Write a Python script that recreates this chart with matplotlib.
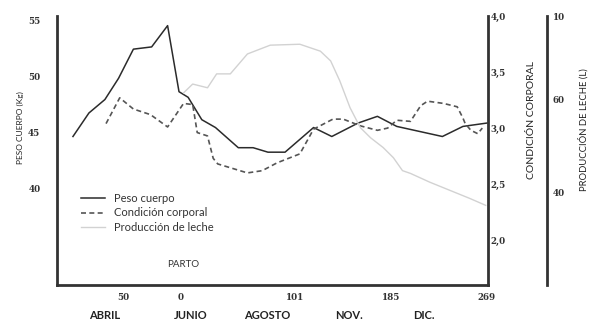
import matplotlib.pyplot as plt

# datos (días respecto al parto)
dias_peso = [-94, -80, -66, -54, -41, -25, -11, -1, 7, 19, 31, 51, 64, 77, 92,
             117, 133, 156, 173, 190, 230, 248, 269]
peso = [44.6, 46.7, 47.9, 49.8, 52.4, 52.6, 54.5, 48.6, 48.1, 46.1, 45.4, 43.6,
        43.6, 43.2, 43.2, 45.4, 44.6, 45.8, 46.4, 45.5, 44.6, 45.5, 45.8]

dias_cc = [-65, -53, -41, -26, -11, 3, 11, 15, 24, 29, 33, 59, 72, 85, 105, 117,
           134, 143, 158, 173, 182, 190, 202, 211, 217, 231, 243, 248, 250, 255,
           261, 265]
condicion = [3.04, 3.27, 3.17, 3.12, 3.01, 3.22, 3.21, 2.96, 2.93, 2.73, 2.68,
             2.60, 2.62, 2.69, 2.77, 2.99, 3.08, 3.08, 3.02, 2.98, 3.00, 3.07,
             3.06, 3.20, 3.24, 3.22, 3.19, 3.09, 3.04, 2.98, 2.95, 3.00]

dias_leche = [3, 11, 24, 32, 44, 59, 79, 105, 123, 132, 140, 149, 158, 167, 178,
              187, 195, 202, 219, 237, 254, 268]
leche = [61.5, 63.4, 62.6, 65.6, 65.6, 69.9, 71.8, 72.0, 70.5, 68.4, 64.1, 58.3,
         54.0, 51.8, 49.7, 47.5, 44.7, 44.1, 42.2, 40.4, 38.7, 37.2]

x_ticks = [-50, 0, 101, 185, 269]
x_labels = ["50", "0", "101", "185", "269"]
meses = ["ABRIL", "JUNIO", "AGOSTO", "NOV.", "DIC."]
meses_x = [-66, 9, 76, 148, 214]

y1_ticks = [40, 45, 50, 55]
y2_ticks = [2.0, 2.5, 3.0, 3.5, 4.0]
y2_labels = ["2,0", "2,5", "3,0", "3,5", "4,0"]
y3_ticks = [40, 60, 78]
y3_labels = ["40", "60", "10"]

fig = plt.figure(figsize=(5.9, 3.21), dpi=100)
ax = fig.add_axes([57 / 590, 36 / 321, 431 / 590, 269 / 321])
ax2 = ax.twinx()
ax3 = ax.twinx()

tick_font = dict(family="DejaVu Serif", weight="bold", size=6.3, color="#333333")
sp_col = "#333333"

l1, = ax.plot(dias_peso, peso, color="#2b2b2b", lw=1.1)
l2, = ax2.plot(dias_cc, condicion, color="#555555", lw=1.2, dashes=(3, 2))
l3, = ax3.plot(dias_leche, leche, color="#d2d2d2", lw=1.0)

ax.set_xlim(-108, 270)
ax.set_ylim(31.34, 55.36)
ax2.set_ylim(1.6, 3.99)
ax3.set_ylim(20, 78.1)

for a in (ax, ax2, ax3):
    a.spines["top"].set_visible(False)
    a.tick_params(length=0)
for a in (ax2, ax3):
    a.spines["left"].set_visible(False)
    a.spines["bottom"].set_visible(False)
ax.spines["right"].set_visible(False)
ax.spines["left"].set_linewidth(2)
ax.spines["bottom"].set_linewidth(2)
ax2.spines["right"].set_linewidth(2)
ax3.spines["right"].set_linewidth(2)
ax3.spines["right"].set_position(("axes", 1.137))
for s in (ax.spines["left"], ax.spines["bottom"], ax2.spines["right"], ax3.spines["right"]):
    s.set_color(sp_col)

ax.set_xticks(x_ticks)
ax.set_xticklabels(x_labels, **tick_font)
ax.tick_params(axis="x", pad=6)
ax.set_yticks(y1_ticks)
ax.set_yticklabels([str(v) for v in y1_ticks], **tick_font)
ax.tick_params(axis="y", pad=12)
ax2.set_yticks(y2_ticks)
ax2.set_yticklabels(y2_labels, **tick_font)
ax2.tick_params(axis="y", pad=2)
ax3.set_yticks(y3_ticks)
ax3.set_yticklabels(y3_labels, **tick_font)
ax3.tick_params(axis="y", pad=4)

# etiquetas de ejes
fig.text(20 / 590, 1 - 128 / 321, "PESO CUERPO (Kg)", rotation=90, ha="center",
         va="center", family="Lato", size=6, color="#222222")
fig.text(532 / 590, 1 - 120 / 321, "CONDICIÓN CORPORAL", rotation=90, ha="center",
         va="center", family="Lato", size=7.5, color="#222222")
fig.text(583 / 590, 1 - 130 / 321, "PRODUCCIÓN DE LECHE (L)", rotation=90, ha="center",
         va="center", family="Lato", size=6.8, color="#222222")

trans = ax.get_xaxis_transform()
for m, xm in zip(meses, meses_x):
    ax.text(xm, -0.112, m, transform=trans, ha="center", va="center",
            family="Lato", weight="bold", size=8, color="#222222")

ax.text(3, 0.078, "PARTO", transform=trans, ha="center", va="center",
        family="Lato", size=7, color="#333333")

ax.legend([l1, l2, l3], ["Peso cuerpo", "Condición corporal", "Producción de leche"],
          loc="upper left", bbox_to_anchor=(0.045, 0.36), frameon=False,
          prop=dict(family="Lato", size=8), handlelength=2.2, handletextpad=0.8,
          labelspacing=0.35, borderaxespad=0, labelcolor="#333333")

fig.savefig("out.png", dpi=100)
